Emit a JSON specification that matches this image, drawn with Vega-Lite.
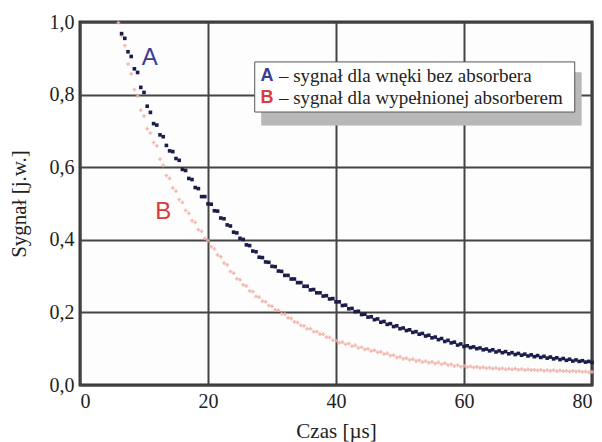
{
  "$schema": "https://vega.github.io/schema/vega-lite/v6.json",
  "autosize": {"type": "none"},
  "width": 512,
  "height": 363,
  "padding": {"left": 80, "top": 22, "right": 10, "bottom": 57},
  "background": "white",
  "config": {
    "view": {"stroke": "#333333", "strokeWidth": 3, "fill": "#fdfdfd"},
    "axis": {
      "labelFont": "Liberation Serif, Times New Roman, serif",
      "labelFontSize": 20,
      "labelColor": "#222222",
      "titleFont": "Liberation Serif, Times New Roman, serif",
      "titleFontSize": 21,
      "titleFontWeight": "normal",
      "titleColor": "#222222",
      "ticks": false,
      "domain": false,
      "gridColor": "#444444",
      "gridWidth": 2,
      "gridOpacity": 1
    }
  },
  "datasets": {
    "signal": [
      {"t":6.0,"A":null,"B":0.998},{"t":6.5,"A":0.968,"B":0.962},{"t":7.0,"A":0.955,"B":0.935},{"t":7.5,"A":0.918,"B":0.884},
      {"t":8.0,"A":0.905,"B":0.857},{"t":8.5,"A":0.871,"B":0.814},{"t":9.0,"A":0.861,"B":0.796},{"t":9.5,"A":0.820,"B":0.757},
      {"t":10.0,"A":0.806,"B":0.741},{"t":10.5,"A":0.768,"B":0.706},{"t":11.0,"A":0.751,"B":0.694},{"t":11.5,"A":0.720,"B":0.668},
      {"t":12.0,"A":0.716,"B":0.659},{"t":12.5,"A":0.689,"B":0.622},{"t":13.0,"A":0.684,"B":0.605},{"t":13.5,"A":0.660,"B":0.577},
      {"t":14.0,"A":0.645,"B":0.569},{"t":14.5,"A":0.643,"B":0.543},{"t":15.0,"A":0.624,"B":0.534},{"t":15.5,"A":0.619,"B":0.511},
      {"t":16.0,"A":0.594,"B":0.503},{"t":16.5,"A":0.591,"B":0.481},{"t":17.0,"A":0.569,"B":0.473},{"t":17.5,"A":0.566,"B":0.453},
      {"t":18.0,"A":0.544,"B":0.448},{"t":18.5,"A":0.541,"B":0.428},{"t":19.0,"A":0.519,"B":0.423},{"t":19.5,"A":0.519,"B":0.404},
      {"t":20.0,"A":0.499,"B":0.398},{"t":20.5,"A":0.498,"B":0.381},{"t":21.0,"A":0.480,"B":0.375},{"t":21.5,"A":0.479,"B":0.358},
      {"t":22.0,"A":0.460,"B":0.353},{"t":22.5,"A":0.458,"B":0.336},{"t":23.0,"A":0.441,"B":0.331},{"t":23.5,"A":0.438,"B":0.313},
      {"t":24.0,"A":0.421,"B":0.308},{"t":24.5,"A":0.419,"B":0.293},{"t":25.0,"A":0.404,"B":0.290},{"t":25.5,"A":0.401,"B":0.276},
      {"t":26.0,"A":0.386,"B":0.273},{"t":26.5,"A":0.384,"B":0.259},{"t":27.0,"A":0.369,"B":0.257},{"t":27.5,"A":0.367,"B":0.244},
      {"t":28.0,"A":0.352,"B":0.242},{"t":28.5,"A":0.351,"B":0.231},{"t":29.0,"A":0.339,"B":0.229},{"t":29.5,"A":0.338,"B":0.219},
      {"t":30.0,"A":0.327,"B":0.217},{"t":30.5,"A":0.326,"B":0.207},{"t":31.0,"A":0.314,"B":0.206},{"t":31.5,"A":0.313,"B":0.196},
      {"t":32.0,"A":0.302,"B":0.195},{"t":32.5,"A":0.302,"B":0.185},{"t":33.0,"A":0.292,"B":0.183},{"t":33.5,"A":0.292,"B":0.174},
      {"t":34.0,"A":0.282,"B":0.172},{"t":34.5,"A":0.282,"B":0.164},{"t":35.0,"A":0.272,"B":0.163},{"t":35.5,"A":0.272,"B":0.155},
      {"t":36.0,"A":0.262,"B":0.155},{"t":36.5,"A":0.263,"B":0.147},{"t":37.0,"A":0.254,"B":0.147},{"t":37.5,"A":0.254,"B":0.140},
      {"t":38.0,"A":0.245,"B":0.140},{"t":38.5,"A":0.246,"B":0.132},{"t":39.0,"A":0.237,"B":0.131},{"t":39.5,"A":0.238,"B":0.123},
      {"t":40.0,"A":0.229,"B":0.122},{"t":40.5,"A":0.229,"B":0.116},{"t":41.0,"A":0.219,"B":0.118},{"t":41.5,"A":0.220,"B":0.112},
      {"t":42.0,"A":0.210,"B":0.114},{"t":42.5,"A":0.211,"B":0.107},{"t":43.0,"A":0.202,"B":0.109},{"t":43.5,"A":0.203,"B":0.102},
      {"t":44.0,"A":0.194,"B":0.104},{"t":44.5,"A":0.195,"B":0.098},{"t":45.0,"A":0.187,"B":0.100},{"t":45.5,"A":0.188,"B":0.094},
      {"t":46.0,"A":0.180,"B":0.096},{"t":46.5,"A":0.182,"B":0.090},{"t":47.0,"A":0.173,"B":0.091},{"t":47.5,"A":0.175,"B":0.085},
      {"t":48.0,"A":0.167,"B":0.087},{"t":48.5,"A":0.169,"B":0.081},{"t":49.0,"A":0.161,"B":0.082},{"t":49.5,"A":0.163,"B":0.076},
      {"t":50.0,"A":0.155,"B":0.078},{"t":50.5,"A":0.157,"B":0.072},{"t":51.0,"A":0.150,"B":0.074},{"t":51.5,"A":0.152,"B":0.069},
      {"t":52.0,"A":0.145,"B":0.071},{"t":52.5,"A":0.147,"B":0.066},{"t":53.0,"A":0.140,"B":0.068},{"t":53.5,"A":0.142,"B":0.063},
      {"t":54.0,"A":0.135,"B":0.066},{"t":54.5,"A":0.137,"B":0.061},{"t":55.0,"A":0.130,"B":0.064},{"t":55.5,"A":0.132,"B":0.059},
      {"t":56.0,"A":0.125,"B":0.062},{"t":56.5,"A":0.128,"B":0.057},{"t":57.0,"A":0.120,"B":0.060},{"t":57.5,"A":0.123,"B":0.055},
      {"t":58.0,"A":0.116,"B":0.057},{"t":58.5,"A":0.118,"B":0.052},{"t":59.0,"A":0.110,"B":0.055},{"t":59.5,"A":0.113,"B":0.050},
      {"t":60.0,"A":0.106,"B":0.053},{"t":60.5,"A":0.108,"B":0.049},{"t":61.0,"A":0.103,"B":0.051},{"t":61.5,"A":0.105,"B":0.048},
      {"t":62.0,"A":0.100,"B":0.050},{"t":62.5,"A":0.102,"B":0.047},{"t":63.0,"A":0.097,"B":0.049},{"t":63.5,"A":0.099,"B":0.046},
      {"t":64.0,"A":0.094,"B":0.048},{"t":64.5,"A":0.097,"B":0.045},{"t":65.0,"A":0.091,"B":0.047},{"t":65.5,"A":0.094,"B":0.044},
      {"t":66.0,"A":0.089,"B":0.046},{"t":66.5,"A":0.092,"B":0.043},{"t":67.0,"A":0.086,"B":0.045},{"t":67.5,"A":0.089,"B":0.043},
      {"t":68.0,"A":0.084,"B":0.045},{"t":68.5,"A":0.087,"B":0.042},{"t":69.0,"A":0.082,"B":0.044},{"t":69.5,"A":0.085,"B":0.041},
      {"t":70.0,"A":0.080,"B":0.043},{"t":70.5,"A":0.083,"B":0.041},{"t":71.0,"A":0.078,"B":0.042},{"t":71.5,"A":0.081,"B":0.040},
      {"t":72.0,"A":0.076,"B":0.042},{"t":72.5,"A":0.079,"B":0.039},{"t":73.0,"A":0.074,"B":0.041},{"t":73.5,"A":0.077,"B":0.039},
      {"t":74.0,"A":0.072,"B":0.041},{"t":74.5,"A":0.075,"B":0.038},{"t":75.0,"A":0.070,"B":0.040},{"t":75.5,"A":0.073,"B":0.038},
      {"t":76.0,"A":0.068,"B":0.039},{"t":76.5,"A":0.071,"B":0.037},{"t":77.0,"A":0.066,"B":0.039},{"t":77.5,"A":0.069,"B":0.037},
      {"t":78.0,"A":0.065,"B":0.038},{"t":78.5,"A":0.067,"B":0.036},{"t":79.0,"A":0.063,"B":0.037},{"t":79.5,"A":0.065,"B":0.035},
      {"t":80.0,"A":0.062,"B":0.036}
    ],
    "labels": [
      {"t":10.9,"v":0.90,"txt":"A","col":"#3c3c96"},
      {"t":13.0,"v":0.477,"txt":"B","col":"#d83c3c"}
    ],
    "legendBox": [
      {"x1":28.4,"x2":78.3,"y1":0.716,"y2":0.86,"kind":"shadow"},
      {"x1":27.3,"x2":77.3,"y1":0.752,"y2":0.89,"kind":"box"}
    ],
    "legendText": [
      {"t":29.2,"v":0.852,"key":"A","col":"#3c3c96","txt":"– sygnał dla wnęki bez absorbera"},
      {"t":29.2,"v":0.792,"key":"B","col":"#d83c3c","txt":"– sygnał dla wypełnionej absorberem"}
    ]
  },
  "layer": [
    {
      "data": {"name": "signal"},
      "transform": [{"fold": ["B"], "as": ["series", "v"]}, {"filter": "isValid(datum.v)"}],
      "mark": {"type": "point", "shape": "cross", "filled": true, "size": 14, "color": "#efb2ab", "opacity": 0.9},
      "encoding": {
        "x": {"field": "t", "type": "quantitative", "scale": {"domain": [0, 80], "nice": false},
              "axis": {"values": [0, 20, 40, 60, 80], "title": "Czas [µs]", "labelPadding": 6, "titlePadding": 9}},
        "y": {"field": "v", "type": "quantitative", "scale": {"domain": [0, 1], "nice": false},
              "axis": {"values": [0, 0.2, 0.4, 0.6, 0.8, 1.0], "title": "Sygnał [j.w.]", "labelPadding": 6, "titlePadding": 20,
                       "labelExpr": "replace(format(datum.value, '.1f'), '.', ',')"}}
      }
    },
    {
      "data": {"name": "signal"},
      "transform": [{"fold": ["A"], "as": ["series", "v"]}, {"filter": "isValid(datum.v)"}],
      "mark": {"type": "square", "size": 13, "color": "#1c1c4a", "opacity": 1},
      "encoding": {
        "x": {"field": "t", "type": "quantitative"},
        "y": {"field": "v", "type": "quantitative"}
      }
    },
    {
      "data": {"name": "labels"},
      "mark": {"type": "text", "font": "Liberation Sans, Arial, sans-serif", "fontSize": 24, "align": "center", "baseline": "middle"},
      "encoding": {
        "x": {"field": "t", "type": "quantitative"},
        "y": {"field": "v", "type": "quantitative"},
        "text": {"field": "txt"},
        "color": {"field": "col", "type": "nominal", "scale": null}
      }
    },
    {
      "data": {"name": "legendBox"},
      "mark": {"type": "rect"},
      "encoding": {
        "x": {"field": "x1", "type": "quantitative"},
        "x2": {"field": "x2"},
        "y": {"field": "y1", "type": "quantitative"},
        "y2": {"field": "y2"},
        "fill": {"field": "kind", "type": "nominal", "scale": {"domain": ["shadow", "box"], "range": ["#b8b8b8", "#ffffff"]}, "legend": null},
        "stroke": {"field": "kind", "type": "nominal", "scale": {"domain": ["shadow", "box"], "range": ["#b8b8b8", "#555555"]}, "legend": null},
        "strokeWidth": {"value": 1}
      }
    },
    {
      "data": {"name": "legendText"},
      "mark": {"type": "text", "font": "Liberation Sans, Arial, sans-serif", "fontSize": 18, "fontWeight": "bold", "align": "center", "baseline": "middle"},
      "encoding": {
        "x": {"field": "t", "type": "quantitative"},
        "y": {"field": "v", "type": "quantitative"},
        "text": {"field": "key"},
        "color": {"field": "col", "type": "nominal", "scale": null}
      }
    },
    {
      "data": {"name": "legendText"},
      "mark": {"type": "text", "font": "Liberation Serif, Times New Roman, serif", "fontSize": 19, "align": "left", "baseline": "middle", "dx": 12, "color": "#222222"},
      "encoding": {
        "x": {"field": "t", "type": "quantitative"},
        "y": {"field": "v", "type": "quantitative"},
        "text": {"field": "txt"}
      }
    }
  ]
}
